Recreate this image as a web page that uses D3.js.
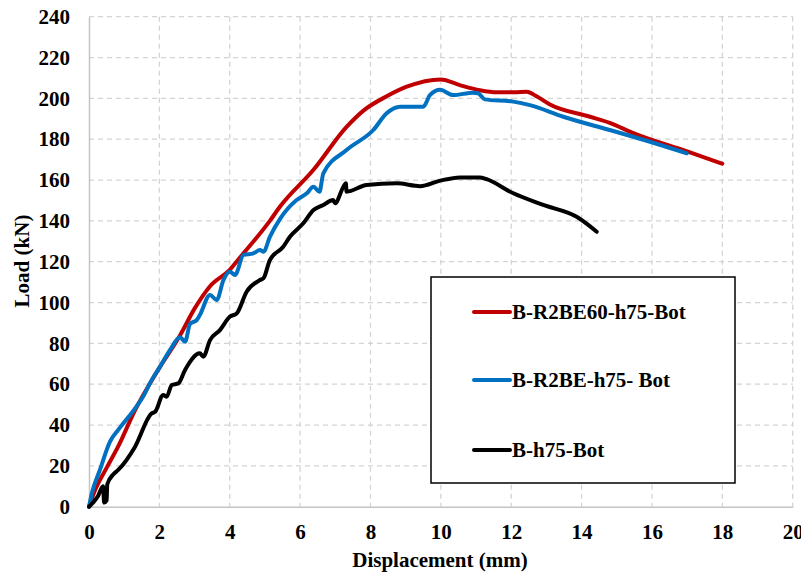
<!DOCTYPE html>
<html>
<head>
<meta charset="utf-8">
<script src="https://cdn.jsdelivr.net/npm/d3@7"></script>
<style>
  html, body { margin: 0; padding: 0; background: #fff; }
  svg { display: block; }
  text { font-family: "Liberation Serif", "Times New Roman", serif; font-weight: bold; fill: #000; }
</style>
</head>
<body>
<svg id="chart" width="801" height="576"></svg>
<script>
// ---- Data ----
const seriesNames = ["B-R2BE60-h75-Bot", "B-R2BE-h75- Bot", "B-h75-Bot"];
const seriesColors = ["#C00000", "#0070C0", "#000000"];

const redDisp = [0, 0.17, 0.5, 0.83, 1.3, 2.0, 2.59, 3.0, 3.44, 4.0, 4.29, 5.14, 5.43, 6.38, 7.32, 7.8, 8.46, 9.03, 10.0, 10.54, 11.11, 11.6, 12.1, 12.44, 12.72, 13.1, 14.24, 14.8, 15.47, 17.0, 18.0];
const redLoad = [0, 8, 19, 29.5, 47, 68, 84, 97, 108, 116, 122, 140, 147, 165, 186, 194, 201, 205.7, 209.3, 206.5, 204, 203, 203, 203.3, 201, 197, 191, 188, 183, 174, 168];

const blueDisp = [0, 0.08, 0.31, 0.6, 0.83, 1.31, 1.54, 1.78, 2.02, 2.3, 2.59, 2.73, 2.87, 3.06, 3.15, 3.44, 3.63, 3.82, 4.0, 4.15, 4.39, 4.67, 4.86, 4.96, 5.14, 5.43, 5.9, 6.19, 6.38, 6.55, 6.66, 7.32, 8.08, 8.46, 8.84, 9.5, 9.69, 9.98, 10.35, 10.92, 11.06, 11.25, 12.06, 12.53, 13.48, 14.8, 15.47, 16.99];
const blueLoad = [0, 6.5, 18, 32, 37.6, 48.2, 54, 62, 68.6, 76.7, 83, 80.8, 89.5, 91.4, 93.9, 103.7, 101.2, 111, 115.1, 113.5, 123.3, 124.1, 125.7, 124.9, 132.2, 141, 150.2, 153.5, 156.7, 154.3, 163.3, 174.7, 184.5, 192.7, 195.9, 195.9, 201.6, 204.2, 201.6, 202.8, 202.5, 199.5, 198.4, 196.7, 191, 184.5, 181.2, 173.1];

const blackDisp = [0, 0.25, 0.4, 0.43, 0.5, 0.52, 0.7, 0.83, 1.31, 1.78, 1.88, 2.11, 2.21, 2.35, 2.54, 2.73, 3.15, 3.25, 3.44, 3.72, 4.0, 4.2, 4.48, 4.86, 4.96, 5.14, 5.52, 5.71, 6.09, 6.38, 6.66, 6.94, 6.99, 7.23, 7.3, 7.32, 7.89, 8.75, 9.41, 9.98, 10.54, 11.11, 11.3, 12.06, 12.91, 13.86, 14.43];
const blackLoad = [0, 5, 10, 2, 3, 11, 16, 18, 29.4, 45.7, 46.5, 54.7, 53.9, 59.6, 60.4, 67, 75.1, 73.5, 81.6, 86.5, 93, 94.7, 105.3, 111, 111.9, 120.8, 127.3, 132.2, 138.8, 145.3, 147.8, 150.2, 148.6, 156.7, 158.4, 154.3, 157.6, 158.4, 157, 159.7, 161.3, 161.3, 160.4, 153.5, 147.8, 142, 134.7];

const xTicks = [0, 2, 4, 6, 8, 10, 12, 14, 16, 18, 20];
const yTicks = [0, 20, 40, 60, 80, 100, 120, 140, 160, 180, 200, 220, 240];
const xTitle = "Displacement (mm)";
const yTitle = "Load (kN)";

// ---- Layout ----
const pLeft = 89, pRight = 792.7, pTop = 16.7, pBottom = 506.7;
const svg = d3.select("#chart");
const x = d3.scaleLinear().domain([0, 20]).range([pLeft, pRight]);
const y = d3.scaleLinear().domain([0, 240]).range([pBottom, pTop]);

// gridlines
svg.append("g").selectAll("line").data(xTicks.filter(d => d > 0)).join("line")
  .attr("x1", d => x(d)).attr("x2", d => x(d)).attr("y1", pTop).attr("y2", pBottom)
  .attr("stroke", "#d4d4d4").attr("stroke-width", 1.3).attr("stroke-dasharray", "5,4");
svg.append("g").selectAll("line").data(yTicks.filter(d => d > 0)).join("line")
  .attr("x1", pLeft).attr("x2", pRight).attr("y1", d => y(d)).attr("y2", d => y(d))
  .attr("stroke", "#d4d4d4").attr("stroke-width", 1.3).attr("stroke-dasharray", "5,4");

// axes
const xAxis = d3.axisBottom(x).tickValues(xTicks).tickSize(0).tickPadding(17).tickFormat(d3.format("d"));
const yAxis = d3.axisLeft(y).tickValues(yTicks).tickSize(0).tickPadding(19).tickFormat(d3.format("d"));
const gx = svg.append("g").attr("transform", `translate(0,${pBottom})`).call(xAxis);
const gy = svg.append("g").attr("transform", `translate(${pLeft},0)`).call(yAxis);
[gx, gy].forEach(g => {
  g.select(".domain").attr("stroke", "#c4c4c4").attr("stroke-width", 1.5);
  g.selectAll("text").style("font-family", '"Liberation Serif", "Times New Roman", serif')
    .style("font-weight", "bold").style("font-size", "21px").attr("fill", "#000");
});

// axis titles
svg.append("text").attr("x", 440).attr("y", 567).attr("text-anchor", "middle")
  .style("font-size", "21px").text(xTitle);
svg.append("text").attr("transform", "translate(29,261) rotate(-90)").attr("text-anchor", "middle")
  .style("font-size", "21px").text(yTitle);

// lines
const series = [
  { disp: redDisp, load: redLoad },
  { disp: blueDisp, load: blueLoad },
  { disp: blackDisp, load: blackLoad }
];
const line = d3.line().x(d => x(d[0])).y(d => y(d[1])).curve(d3.curveMonotoneX);
series.forEach((s, i) => {
  const pts = s.disp.map((d, j) => [d, s.load[j]]);
  svg.append("path").datum(pts).attr("d", line)
    .attr("fill", "none").attr("stroke", seriesColors[i]).attr("stroke-width", 4)
    .attr("stroke-linejoin", "round").attr("stroke-linecap", "round");
});

// legend
const lg = svg.append("g");
lg.append("rect").attr("x", 431).attr("y", 277).attr("width", 304).attr("height", 206)
  .attr("fill", "#fff").attr("stroke", "#000").attr("stroke-width", 1.5);
const legY = [312, 380, 450];
seriesNames.forEach((n, i) => {
  lg.append("line").attr("x1", 474).attr("x2", 510).attr("y1", legY[i]).attr("y2", legY[i])
    .attr("stroke", seriesColors[i]).attr("stroke-width", 4).attr("stroke-linecap", "round");
  lg.append("text").attr("x", 512).attr("y", legY[i] + 7).style("font-size", "21px").text(n);
});
</script>
</body>
</html>
